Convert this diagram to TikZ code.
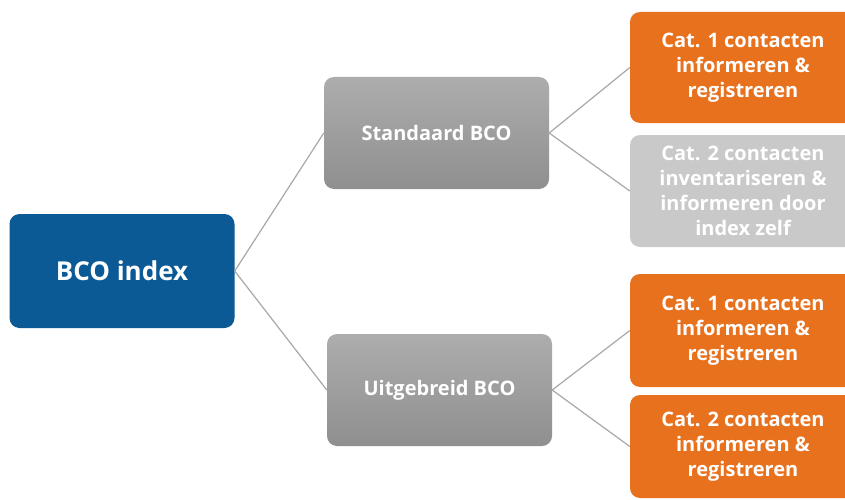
\documentclass[tikz,border=0pt]{standalone}
\usepackage{fontspec}
\setmainfont{Open Sans}
\definecolor{bcoblue}{HTML}{0B5A95}
\definecolor{bcoorange}{HTML}{E8711E}
\definecolor{lightgr}{HTML}{C9C9C9}
\definecolor{grtop}{HTML}{ADADAD}
\definecolor{grbot}{HTML}{8F8F8F}
\definecolor{conncol}{HTML}{A8A8A8}
\begin{document}
\begin{tikzpicture}[x=1pt,y=-1pt,
  box/.style={rectangle, rounded corners=10pt, text=white, align=center,
    font=\bfseries\fontsize{20}{25}\selectfont, inner sep=0pt,
    minimum width=225pt},
  bluebox/.style={box, fill=bcoblue, font=\bfseries\fontsize{26}{30}\selectfont},
  graybox/.style={box, top color=grtop, bottom color=grbot},
  orangebox/.style={box, fill=bcoorange},
  lightbox/.style={box, fill=lightgr},
  conn/.style={draw=conncol, line width=1.2pt}]
\clip (0,0) rectangle (845,500);
\fill[white] (0,0) rectangle (845,500);

\node[bluebox, minimum height=114pt] (bco) at (122,271) {BCO index};
\node[graybox, minimum height=112pt] (std) at (436.5,133) {Standaard BCO};
\node[graybox, minimum height=112pt] (uit) at (439.5,390) {Uitgebreid BCO};

\node[orangebox, minimum width=226pt, minimum height=111pt] (c1a) at (743,67.5) {Cat. 1 contacten\\informeren \&\\registreren};
\node[lightbox, minimum width=226pt, minimum height=112pt] (c2a) at (743,191) {Cat. 2 contacten\\inventariseren \&\\informeren door\\index zelf};
\node[orangebox, minimum width=226pt, minimum height=113pt] (c1b) at (743,330.5) {Cat. 1 contacten\\informeren \&\\registreren};
\node[orangebox, minimum width=226pt, minimum height=103pt] (c2b) at (743,446.5) {Cat. 2 contacten\\informeren \&\\registreren};

\draw[conn] (bco.east) -- (std.west);
\draw[conn] (bco.east) -- (uit.west);
\draw[conn] (std.east) -- (c1a.west);
\draw[conn] (std.east) -- (c2a.west);
\draw[conn] (uit.east) -- (c1b.west);
\draw[conn] (uit.east) -- (c2b.west);
\end{tikzpicture}
\end{document}
